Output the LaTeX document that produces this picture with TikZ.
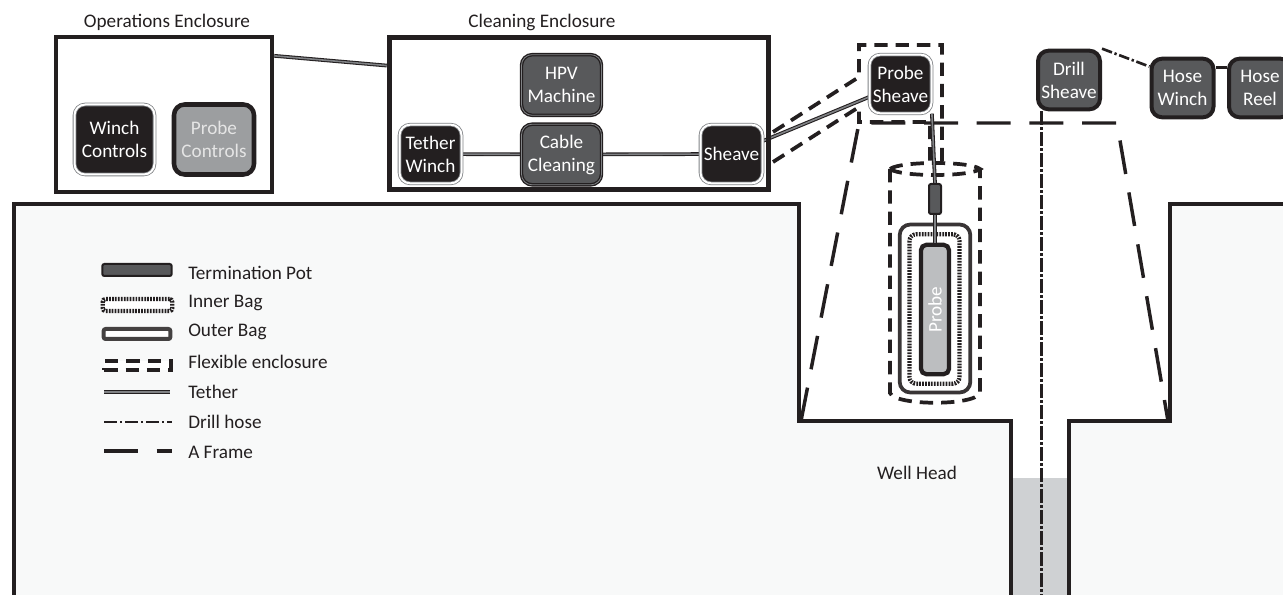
\documentclass[tikz,border=0pt]{standalone}
\usepackage{xcolor}
\usepackage{fontspec}
\setmainfont{Carlito}
\usetikzlibrary{positioning}
\definecolor{Ink}   {HTML}{231F20}
\definecolor{Slate} {HTML}{58595B}
\definecolor{Mid}   {HTML}{808285}
\definecolor{Soft}  {HTML}{9C9EA0}
\definecolor{Pale}  {HTML}{BCBEC0}
\definecolor{Water} {HTML}{CFD1D3}
\definecolor{Earth} {HTML}{F8F9F9}
\pgfdeclarelayer{ground}
\pgfdeclarelayer{links}
\pgfsetlayers{ground,links,main}
\tikzset{
  txt/.style={font=\fontsize{14.4}{17.25}\selectfont,align=center,inner sep=0pt},
  lbl/.style={txt,text=Ink},
  blk/.style={txt,text=white,rounded corners=8pt,minimum width=46.5pt,minimum height=44pt}
}

\begin{document}
\begin{tikzpicture}[
  x=0.75pt,y=-0.75pt,
  wide/.style={minimum width=60pt,minimum height=52.5pt},
  mach/.style={minimum width=60pt,minimum height=45.5pt},
  motor/.style={blk,fill=Ink,draw=Mid,double=white,double distance=1.5pt,line width=0.6pt},
  filter/.style={blk,fill=Slate,draw=Ink,double=Mid,double distance=0.6pt,line width=1pt},
  drum/.style={blk,fill=Slate,draw=Ink,line width=3pt},
  encl/.style={draw=Ink,inner sep=0pt},
  pot/.style={fill=Slate,draw=Ink,line width=1.5pt,rounded corners=1.5pt,inner sep=0pt},
  inbag/.style={draw=Ink,line width=3.2pt,dash pattern=on 1.3pt off 0.9pt,rounded corners=5pt,inner sep=0pt},
  outbag/.style={draw=Ink!90,line width=2.8pt,rounded corners=8pt,inner sep=0pt},
  tether/.style={draw=Ink,double=Mid,double distance=1.2pt,line width=0.8pt},
  flex/.style={draw=Ink,line width=2.8pt,dash pattern=on 10pt off 6pt},
  hose/.style={draw=Ink,line width=2pt,dash pattern=on 10pt off 2pt on 1.75pt off 2pt},
  aframe/.style={draw=Ink,line width=2.6pt,dash pattern=on 25.5pt off 14pt},
  wall/.style={draw=Ink,line width=2.8pt}
]
  \useasboundingbox (0,0) rectangle (1283,595);
  \clip (0,0) rectangle (1283,595);

  % enclosures
  \node[encl,line width=3pt,minimum width=162.5pt,minimum height=116.5pt] (Ops)   at (164,114.5) {};
  \node[encl,line width=3.9pt,minimum width=284.5pt,minimum height=114.5pt] (Clean) at (579,113.5) {};
  \node[lbl] (OpsLbl)   at (167,22) {Operations Enclosure};
  \node[lbl] (CleanLbl) at (542,22) {Cleaning Enclosure};

  \node[motor,wide] (WinchCtl) at (114.5,139.5) {Winch\\Controls};
  \node[blk,wide,fill=Soft,draw=Ink,line width=3.4pt,text=white!90!black] (ProbeCtl) at (214,139.5) {Probe\\Controls};

  \node[filter,mach] (HPV)    at (561.5,85)  {HPV\\Machine};
  \node[filter,mach] (Cable)  at (561.5,154.5) {Cable\\Cleaning};
  \node[motor] (Tether) at (430.5,154) {Tether\\Winch};
  \node[motor] (Sheave) at (731.5,154) {Sheave};

  \node[motor] (PSheave) at (900.5,84)  {Probe\\Sheave};
  \node[drum]  (DSheave) at (1069,80)   {Drill\\Sheave};
  \node[drum]  (HWinch)  at (1182.5,88) {Hose\\Winch};
  \node[drum]  (HReel)   at (1260,88)   {Hose\\Reel};

  % probe and bags
  \node[outbag,minimum width=53pt,minimum height=126pt]  (OBag) at (935,308.5) {};
  \node[inbag,minimum width=37.5pt,minimum height=112pt] (IBag) at (934.5,309) {};
  \node[draw=Ink,fill=Pale,line width=3.2pt,rounded corners=4pt,rotate=90,text=white,txt,
        minimum width=97pt,minimum height=21pt] (Probe) at (935,309.5) {Probe};
  \node[pot,minimum width=9pt,minimum height=22.5pt] (Pot) at (935,199) {};
  \draw[tether](Pot.south)--(Probe.east);

  \node[lbl] (Well) at (917,473) {Well Head};

  % legend
  \node[pot,minimum width=52pt,minimum height=9pt] (KeyPot)  at (137,270) {};
  \node[inbag,fill=white,minimum width=52pt,minimum height=9pt,rounded corners=2pt] (KeyIn) at (137.5,305) {};
  \node[outbag,fill=white,line width=3pt,draw=Ink!85,minimum width=50pt,minimum height=7.5pt,rounded corners=1.5pt] (KeyOut) at (137,334) {};
  \node[flex,fill=white,minimum width=50pt,minimum height=6.5pt,inner sep=0pt] (KeyFlex) at (137.5,365.5) {};
  \coordinate (KeyTetherA) at (104,392);
  \coordinate (KeyTetherB) at (170,392);
  \coordinate (KeyHoseA)   at (104,422);
  \coordinate (KeyHoseB)   at (172,422);
  \coordinate (KeyFrameA)  at (104,451);
  \coordinate (KeyFrameB)  at (172,451);
  \draw[tether](KeyTetherA)--(KeyTetherB);
  \draw[hose](KeyHoseA)--(KeyHoseB);
  \draw[aframe](KeyFrameA)--(KeyFrameB);
  \node[lbl,anchor=west] (TxtPot)    at (188,273) {Termination Pot};
  \node[lbl,anchor=west] (TxtIn)     at (188,303) {Inner Bag};
  \node[lbl,anchor=west] (TxtOut)    at (188,332) {Outer Bag};
  \node[lbl,anchor=west] (TxtFlex)   at (188,362) {Flexible enclosure};
  \node[lbl,anchor=west] (TxtTether) at (188,392) {Tether};
  \node[lbl,anchor=west] (TxtHose)   at (188,422) {Drill hose};
  \node[lbl,anchor=west] (TxtFrame)  at (188,452) {A Frame};

  \begin{pgfonlayer}{ground}
    \fill[Earth](14,595)--(14,204)--(799,204)--(799,421)--(1011,421)--(1011,595)--cycle;
    \fill[Earth](1283,595)--(1283,204)--(1170,204)--(1170,421)--(1069,421)--(1069,595)--cycle;
    \fill[Water](1011,478) rectangle (1069,595);
    \draw[wall](14,595)--(14,204)--(799,204)--(799,421)--(1011,421)--(1011,595);
    \draw[wall](1283,204)--(1170,204)--(1170,421)--(1069,421)--(1069,595);
  \end{pgfonlayer}

  \begin{pgfonlayer}{links}
    \draw[aframe](801,421)--(859,123)--(1117,123)--(1168,421);
    \draw[flex](773,132)--(859,77)--(859,45)--(942,45)--(942,165);
    \draw[flex](773,162)--(859,107)--(859,122)--(930,122)--(930,165);
    \draw[flex](890,169)--(890,393) .. controls (895,406) and (975,406) .. (980,393)--(980,169);
    \draw[flex](890,169) .. controls (900,161) and (970,161) .. (980,169)
      .. controls (970,177) and (900,177) .. (890,169);
    \draw[hose](DSheave.229)--(DSheave.229 |- 0,595);
    \draw[hose,dash pattern=on 8pt off 2pt on 1.75pt off 2pt](DSheave.north east)--(HWinch.147);
    \draw[hose,solid](HWinch.32)--(HReel.148);
    \draw[tether](Ops.28.4)--(Clean.166.4);
    \draw[tether](Tether)--(Cable);
    \draw[tether](Cable)--(Sheave);
    \draw[tether](Sheave)--(PSheave);
    \draw[tether](PSheave.south east)--(Pot.north);
  \end{pgfonlayer}
\end{tikzpicture}
\end{document}
